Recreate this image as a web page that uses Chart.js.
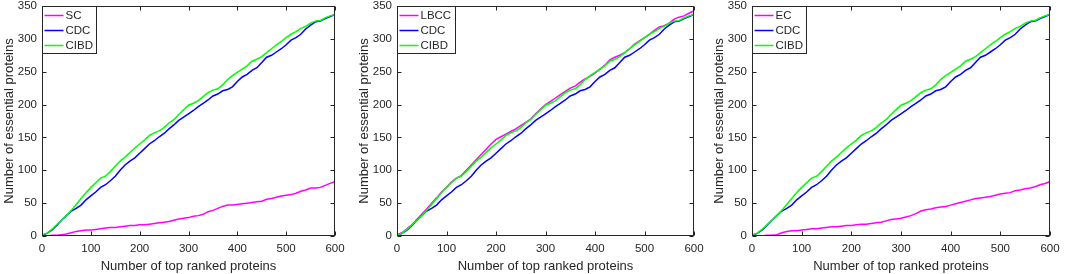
<!DOCTYPE html>
<html>
<head>
<meta charset="utf-8">
<script src="https://cdn.jsdelivr.net/npm/chart.js@4/dist/chart.umd.min.js"></script>
<style>
  html,body{margin:0;padding:0;background:#fff;}
  #wrap{position:relative;width:1066px;height:274px;overflow:hidden;}
  .c{position:absolute;top:0;height:274px;}
</style>
</head>
<body>
<div id="wrap">
  <div class="c" style="left:0px;width:355px;"><canvas id="c1"></canvas></div>
  <div class="c" style="left:355px;width:355px;"><canvas id="c2"></canvas></div>
  <div class="c" style="left:710px;width:356px;"><canvas id="c3"></canvas></div>
</div>
<script>
// ---- data ----
const xs = [0,10,20,30,40,50,60,70,80,90,100,110,120,130,140,150,160,170,180,190,200,
  210,220,230,240,250,260,270,280,290,300,310,320,330,340,350,360,370,380,390,400,
  410,420,430,440,450,460,470,480,490,500,510,520,530,540,550,560,570,580,590,600];

const CIBD = [2,4,10,17,24,31,39,48,57,66,74,81,88,91,98,106,114,120,127,134,140,
  146,153,157,160,165,172,177,185,192,199,202,206,212,218,222,224,230,238,244,249,
  254,259,266,269,273,279,285,291,296,302,307,311,316,319,324,327,328,332,335,337];

const CDC = [1,4,9,16,24,31,38,42,47,55,61,67,74,78,84,91,100,108,114,119,126,
  133,140,145,151,156,163,169,176,181,186,191,197,202,207,213,216,221,223,227,235,
  242,246,252,256,264,272,275,280,285,291,298,302,307,315,321,326,327,331,334,337];

const SC = [0,0,1,1,2,3,5,7,8,9,9,10,11,12,13,13,14,15,16,16,17,
  17,18,19,20,21,22,24,26,27,28,30,31,33,37,39,42,45,47,47,48,
  49,50,51,52,53,56,57,59,61,62,63,65,68,70,73,73,74,77,80,83];

const LBCC = [2,5,11,17,25,33,41,50,58,67,74,82,88,92,100,108,116,124,132,140,147,
  151,155,159,163,168,173,178,186,193,200,205,210,215,220,225,228,234,239,243,248,
  254,260,268,272,275,279,285,292,297,302,307,313,318,320,324,330,333,335,339,343];

const EC = [0,0,0,1,1,2,5,7,8,8,9,10,11,11,12,13,14,14,15,16,16,
  17,18,18,19,20,21,23,25,26,27,29,31,34,38,40,41,43,44,45,47,
  49,51,53,55,57,58,59,60,62,64,65,66,69,70,72,73,75,78,80,83];

const xTitle = 'Number of top ranked proteins';
const yTitle = 'Number of essential proteins';
const panels = [
  {id:'c1', names:['SC','CDC','CIBD'], series:[SC,CDC,CIBD], padRight:20},
  {id:'c2', names:['LBCC','CDC','CIBD'], series:[LBCC,CDC,CIBD], padRight:16},
  {id:'c3', names:['EC','CDC','CIBD'], series:[EC,CDC,CIBD], padRight:16}
];
const colors = ['#ff00ff','#0000ff','#00ff00'];

// ---- styling ----
const FONT = '"Liberation Sans", Arial, Helvetica, sans-serif';
const TXT = '#262626';

const boxPlugin = {
  id:'boxPlugin',
  afterDatasetsDraw(chart){
    const ctx = chart.ctx;
    const {left,right,top,bottom} = chart.chartArea;
    const xs_ = chart.scales.x, ys_ = chart.scales.y;
    ctx.save();
    ctx.strokeStyle = TXT;
    ctx.lineWidth = 1;
    const L = Math.round(left)+0.5, R = Math.round(right)-0.5, T = Math.round(top)+0.5, B = Math.round(bottom)-0.5;
    ctx.strokeRect(L, T, R-L, B-T);
    ctx.beginPath();
    xs_.ticks.forEach(t=>{
      const p = Math.round(xs_.getPixelForValue(t.value))+0.5;
      ctx.moveTo(p,B); ctx.lineTo(p,B-4);
      ctx.moveTo(p,T); ctx.lineTo(p,T+4);
    });
    ys_.ticks.forEach(t=>{
      const p = Math.round(ys_.getPixelForValue(t.value))+0.5;
      ctx.moveTo(L,p); ctx.lineTo(L+4,p);
      ctx.moveTo(R,p); ctx.lineTo(R-4,p);
    });
    ctx.stroke();

    // legend
    const ds = chart.data.datasets;
    ctx.font = '11.5px ' + FONT;
    let maxW = 0;
    ds.forEach(d=>{ maxW = Math.max(maxW, ctx.measureText(d.label).width); });
    const bw = Math.round(23 + maxW + 4), bh = 47;
    ctx.fillStyle = '#fff';
    ctx.fillRect(L, T, bw, bh);
    ctx.strokeStyle = TXT;
    ctx.lineWidth = 1;
    ctx.strokeRect(L, T, bw, bh);
    ds.forEach((d,i)=>{
      const yy = T + 9 + i*15;
      ctx.strokeStyle = d.borderColor;
      ctx.lineWidth = 1.5;
      ctx.beginPath(); ctx.moveTo(L+2, yy); ctx.lineTo(L+21, yy); ctx.stroke();
      ctx.fillStyle = TXT;
      ctx.textBaseline = 'middle';
      ctx.textAlign = 'left';
      ctx.fillText(d.label, L+23, yy+0.5);
    });
    ctx.restore();
  }
};

panels.forEach(p=>{
  const datasets = p.series.map((s,i)=>({
    label: p.names[i],
    data: xs.map((x,k)=>({x:x, y:s[k]})),
    borderColor: colors[i],
    backgroundColor: colors[i],
    borderWidth: 1.5,
    pointRadius: 0,
    tension: 0,
    fill: false,
    order: 3-i
  }));
  new Chart(document.getElementById(p.id), {
    type:'line',
    data:{datasets},
    options:{
      responsive:true,
      maintainAspectRatio:false,
      animation:false,
      events:[],
      layout:{padding:{left:0,right:p.padRight,top:0,bottom:0}},
      plugins:{legend:{display:false}, tooltip:{enabled:false}},
      scales:{
        x:{
          type:'linear', min:0, max:600,
          grid:{display:false, drawTicks:false, tickLength:0}, border:{display:false},
          ticks:{stepSize:100, color:TXT, font:{family:FONT, size:11.5}, padding:6, maxRotation:0},
          title:{display:true, text:xTitle, color:TXT, font:{family:FONT, size:13}, padding:{top:0,bottom:0}},
          afterFit(s){ s.height = 38; s.paddingLeft = 0; s.paddingRight = 0; }
        },
        y:{
          type:'linear', min:0, max:350,
          grid:{display:false, drawTicks:false, tickLength:0}, border:{display:false},
          ticks:{stepSize:50, color:TXT, font:{family:FONT, size:11.5}, padding:5},
          title:{display:true, text:yTitle, color:TXT, font:{family:FONT, size:13}, padding:{top:2,bottom:0}},
          afterFit(s){ s.width = 42; s.paddingTop = 6; s.paddingBottom = 0; }
        }
      }
    },
    plugins:[boxPlugin]
  });
});
</script>
</body>
</html>
